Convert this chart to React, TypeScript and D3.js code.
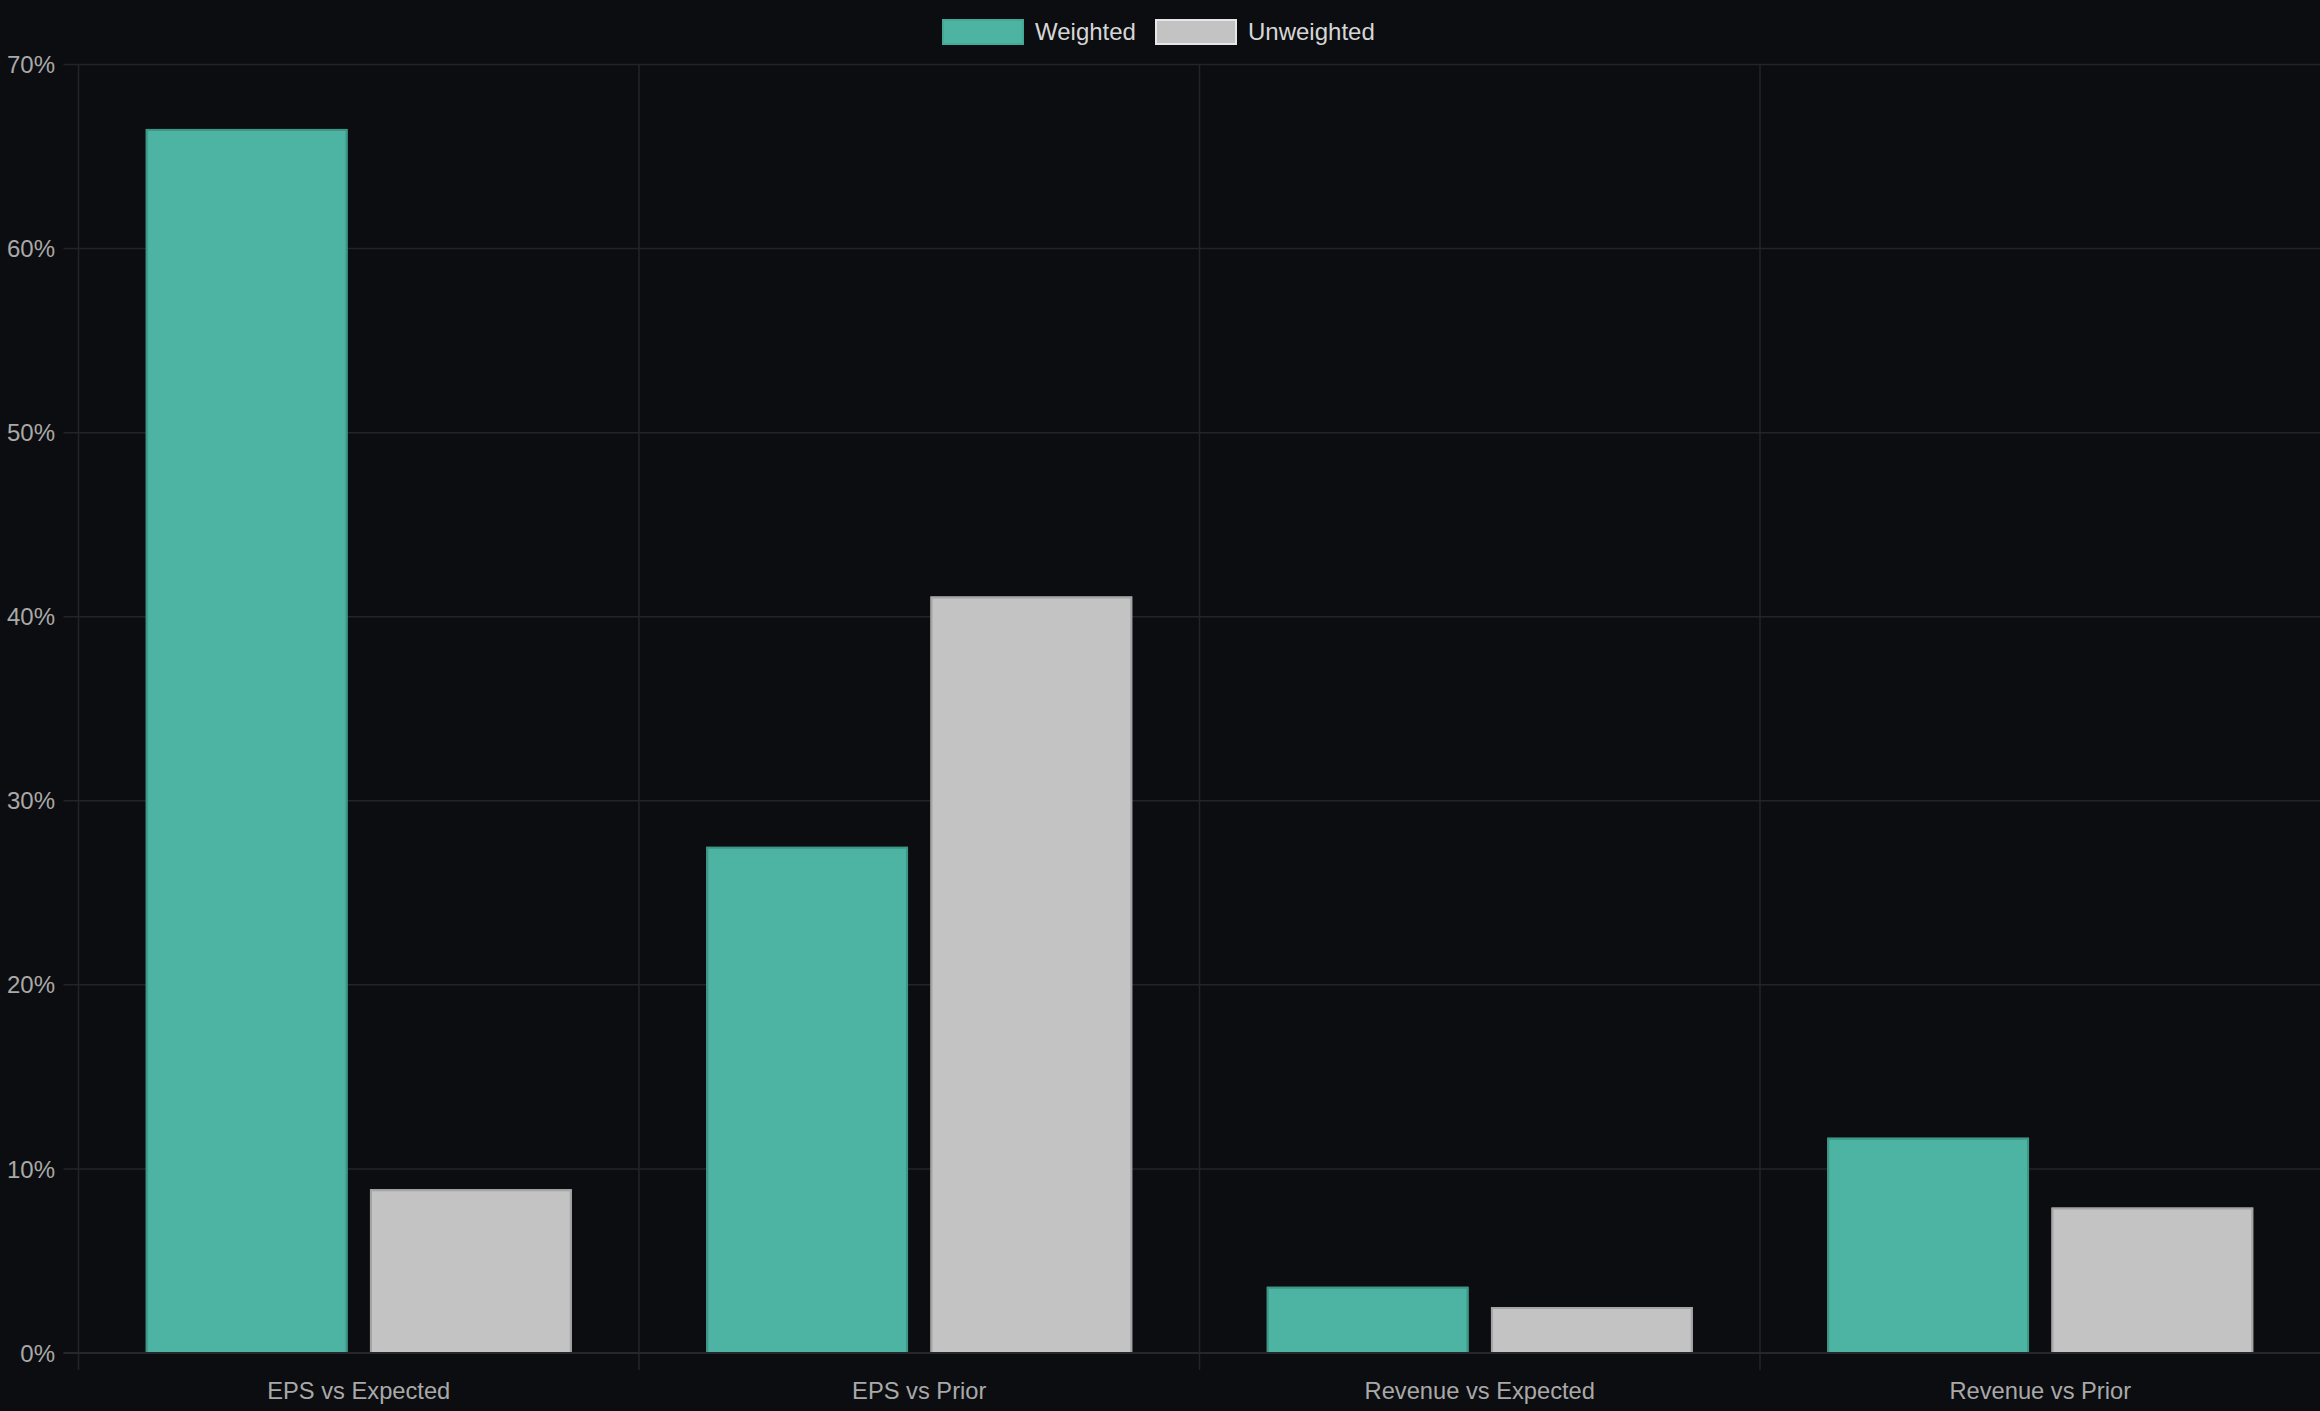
import React, { useEffect, useRef } from 'react'
import * as d3 from 'd3'

const categories = ['EPS vs Expected', 'EPS vs Prior', 'Revenue vs Expected', 'Revenue vs Prior']
const seriesNames = ['Weighted', 'Unweighted']
const weighted = [66.5, 27.5, 3.6, 11.7]
const unweighted = [8.9, 41.1, 2.5, 7.9]
const yTicks = [0, 10, 20, 30, 40, 50, 60, 70]

const W = 2320
const H = 1411
const BG = '#0c0d10'
const GRID = '#232428'
const FONT = '"Liberation Sans", Arial, Helvetica, sans-serif'

const fills = ['#4db3a2', '#c3c3c3']
const borders = ['#3d9787', '#a4a4a4']

const App = () => {
    const svgRef = useRef<SVGSVGElement>(null)

    useEffect(() => {
        document.body.style.margin = '0'
        document.body.style.background = BG

        const svg = d3.select(svgRef.current)
        svg.selectAll('*').remove()

        const left = 78.5
        const right = 2320.5
        const top = 64.5
        const bottom = 1353

        const x = d3.scaleBand<string>().domain(categories).range([left, right])
        const inner = d3.scaleBand<string>()
            .domain(seriesNames)
            .range([0, x.bandwidth()])
            .paddingInner(0.1)
            .paddingOuter(0.3)
        const y = d3.scaleLinear().domain([0, 70]).range([bottom, top])

        svg.append('rect').attr('width', W).attr('height', H).attr('fill', BG)

        // horizontal grid + tick marks
        const gy = svg.append('g')
        gy.selectAll('line.h')
            .data(yTicks)
            .join('line')
            .attr('x1', left - 15)
            .attr('x2', right)
            .attr('y1', d => y(d))
            .attr('y2', d => y(d))
            .attr('stroke', GRID)
            .attr('stroke-width', 1.5)

        gy.selectAll('text')
            .data(yTicks)
            .join('text')
            .attr('x', 55)
            .attr('y', d => y(d))
            .attr('dy', '0.36em')
            .attr('text-anchor', 'end')
            .attr('fill', '#a9a9a9')
            .attr('font-family', FONT)
            .attr('font-size', 24)
            .text(d => `${d}%`)

        // vertical grid at category boundaries
        const xLines = categories.map(c => x(c)!)
        svg.append('g')
            .selectAll('line')
            .data(xLines)
            .join('line')
            .attr('x1', d => d)
            .attr('x2', d => d)
            .attr('y1', top)
            .attr('y2', bottom + 17)
            .attr('stroke', GRID)
            .attr('stroke-width', 1.5)

        // bars
        const data = categories.map((c, i) => ({ c, values: [weighted[i], unweighted[i]] }))
        const bw = inner.bandwidth()
        const groups = svg.append('g')
            .selectAll('g')
            .data(data)
            .join('g')
            .attr('transform', d => `translate(${x(d.c)},0)`)

        groups.selectAll('rect')
            .data(d => d.values.map((v, k) => ({ v, k })))
            .join('rect')
            .attr('x', d => inner(seriesNames[d.k])!)
            .attr('y', d => y(d.v))
            .attr('width', bw)
            .attr('height', d => bottom - y(d.v))
            .attr('fill', d => fills[d.k])

        // borders (top, left, right; bottom skipped)
        groups.selectAll('path')
            .data(d => d.values.map((v, k) => ({ v, k })))
            .join('path')
            .attr('d', d => {
                const x0 = inner(seriesNames[d.k])! + 1
                const x1 = x0 + bw - 2
                const y0 = y(d.v) + 1
                return `M${x0},${bottom}V${y0}H${x1}V${bottom}`
            })
            .attr('fill', 'none')
            .attr('stroke', d => borders[d.k])
            .attr('stroke-width', 2)

        // zero axis line
        svg.append('line')
            .attr('x1', left - 15)
            .attr('x2', right)
            .attr('y1', bottom)
            .attr('y2', bottom)
            .attr('stroke', '#26272b')
            .attr('stroke-width', 2)

        // x labels
        svg.append('g')
            .selectAll('text')
            .data(categories)
            .join('text')
            .attr('x', d => x(d)! + x.bandwidth() / 2)
            .attr('y', 1398.5)
            .attr('text-anchor', 'middle')
            .attr('fill', '#a9a9a9')
            .attr('font-family', FONT)
            .attr('font-size', 23.7)
            .text(d => d)

        // legend
        const legendX = [942, 1155]
        const lg = svg.append('g')
        seriesNames.forEach((name, k) => {
            lg.append('rect')
                .attr('x', legendX[k] + 1)
                .attr('y', 20)
                .attr('width', 80)
                .attr('height', 24)
                .attr('fill', fills[k])
                .attr('stroke', k === 0 ? '#46a897' : '#e6e6e6')
                .attr('stroke-width', 2)
            lg.append('text')
                .attr('x', legendX[k] + 93)
                .attr('y', 39.5)
                .attr('fill', '#d6d6d6')
                .attr('font-family', FONT)
                .attr('font-size', 24)
                .text(name)
        })
    }, [])

    return <svg ref={svgRef} width={W} height={H} style={{ display: 'block' }} />
}

export default App
